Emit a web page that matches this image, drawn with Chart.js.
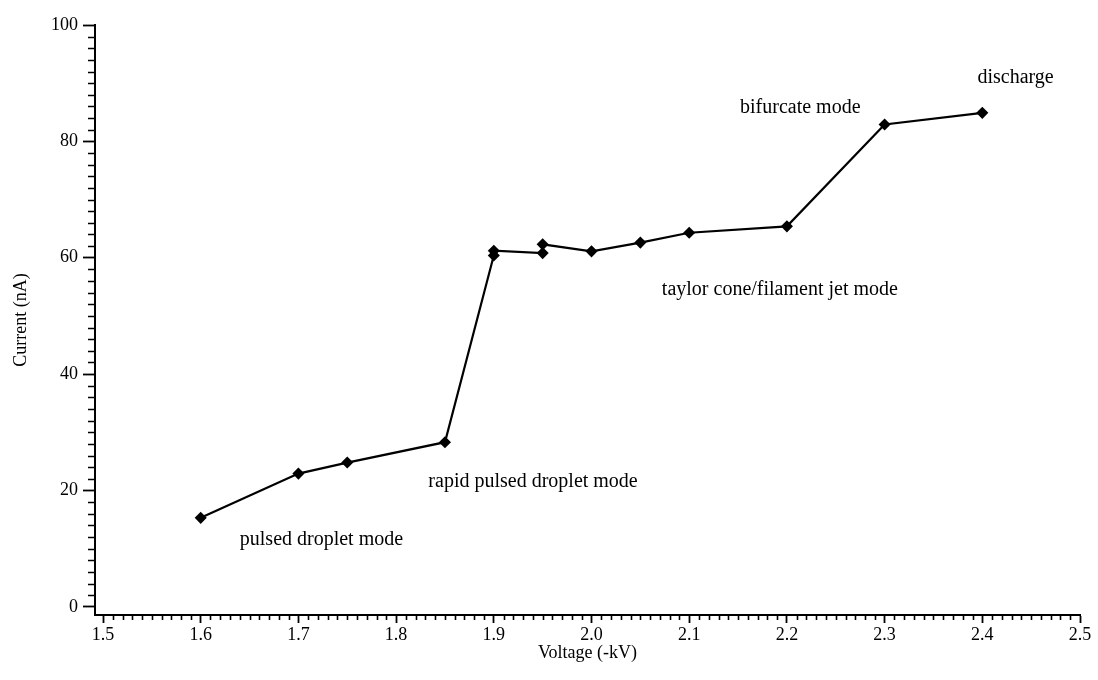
<!DOCTYPE html>
<html>
<head>
<meta charset="utf-8">
<script src="https://cdn.jsdelivr.net/npm/chart.js@4.4.1/dist/chart.umd.min.js"></script>
<style>
  html, body { margin: 0; padding: 0; background: #fff; }
  #wrap { width: 1098px; height: 680px; }
</style>
</head>
<body>
<div id="wrap"><canvas id="ivChart" width="1098" height="680"></canvas></div>
<script>
// spray current vs applied voltage
const voltage = [1.6, 1.7, 1.75, 1.85, 1.9, 1.9, 1.95, 1.95, 2.0, 2.05, 2.1, 2.2, 2.3, 2.4];
const current = [15.3, 22.9, 24.8, 28.3, 60.4, 61.2, 60.8, 62.3, 61.1, 62.6, 64.3, 65.4, 82.9, 84.9];

const xTicks = [1.5, 1.6, 1.7, 1.8, 1.9, 2.0, 2.1, 2.2, 2.3, 2.4, 2.5];
const yTicks = [0, 20, 40, 60, 80, 100];

// spray regimes written next to the curve
const modeNames = [
  'pulsed droplet mode',
  'rapid pulsed droplet mode',
  'taylor cone/filament jet mode',
  'bifurcate mode',
  'discharge'
];

const points = voltage.map((v, i) => ({ x: v, y: current[i] }));
const serif = '"Liberation Serif", "DejaVu Serif", serif';

// short in-between ticks + the mode captions
const extras = {
  id: 'extras',
  afterDraw(chart, args, opts) {
    const ctx = chart.ctx;
    const xs = chart.scales.x, ys = chart.scales.y;
    ctx.save();
    ctx.strokeStyle = '#000';
    ctx.lineWidth = 1.6;
    ctx.beginPath();
    for (let i = 150; i <= 250; i++) {
      if (i % 10 === 0) continue;
      const px = Math.round(xs.getPixelForValue(i / 100)) + 0.5;
      ctx.moveTo(px, xs.top);
      ctx.lineTo(px, xs.top + 5);
    }
    for (let v = 0; v <= 100; v += 2) {
      if (v % 20 === 0) continue;
      const py = Math.round(ys.getPixelForValue(v)) + 0.5;
      ctx.moveTo(ys.right, py);
      ctx.lineTo(ys.right - 7, py);
    }
    ctx.stroke();

    ctx.fillStyle = '#000';
    ctx.font = '20px ' + serif;
    ctx.textBaseline = 'middle';
    ctx.textAlign = 'left';
    opts.anchors.forEach((a, i) => {
      ctx.fillText(modeNames[i], xs.getPixelForValue(a[0]), ys.getPixelForValue(a[1]));
    });
    ctx.restore();
  }
};

const config = {
  type: 'scatter',
  data: {
    datasets: [{
      data: points,
      showLine: true,
      borderColor: '#000',
      backgroundColor: '#000',
      borderWidth: 2.2,
      pointStyle: 'rectRot',
      pointRadius: 4.5,
      pointHoverRadius: 4.5
    }]
  },
  options: {
    responsive: false,
    animation: false,
    layout: { padding: { top: 25, right: 18, left: 0, bottom: 0 } },
    plugins: {
      legend: { display: false },
      tooltip: { enabled: false },
      extras: {
        anchors: [[1.640, 11.5], [1.833, 21.5], [2.072, 54.5], [2.152, 85.7], [2.395, 91.0]]
      }
    },
    scales: {
      x: {
        type: 'linear',
        min: 1.4918,
        max: 2.5,
        afterFit(scale) { scale.height = 65; },
        afterBuildTicks(scale) { scale.ticks = xTicks.map(v => ({ value: v })); },
        ticks: {
          color: '#000',
          font: { family: serif, size: 18 },
          padding: 1,
          maxRotation: 0,
          callback: v => v.toFixed(1)
        },
        grid: { drawOnChartArea: false, color: '#000', tickLength: 8, tickWidth: 1.8 },
        border: { color: '#000', width: 2 },
        title: {
          display: true,
          text: 'Voltage (-kV)',
          color: '#000',
          font: { family: serif, size: 18 },
          padding: { top: 0, bottom: 16 }
        }
      },
      y: {
        type: 'linear',
        min: -1.4,
        max: 100,
        afterFit(scale) { scale.width = 95; },
        afterBuildTicks(scale) { scale.ticks = yTicks.map(v => ({ value: v })); },
        ticks: {
          color: '#000',
          font: { family: serif, size: 18 },
          padding: 5
        },
        grid: { drawOnChartArea: false, color: '#000', tickLength: 12, tickWidth: 1.8 },
        border: { color: '#000', width: 2 },
        title: {
          display: true,
          text: 'Current (nA)',
          color: '#000',
          font: { family: serif, size: 18 },
          padding: { top: 10, bottom: 0 }
        }
      }
    }
  },
  plugins: [extras]
};

const ivChart = new Chart(document.getElementById('ivChart'), config);
</script>
</body>
</html>
